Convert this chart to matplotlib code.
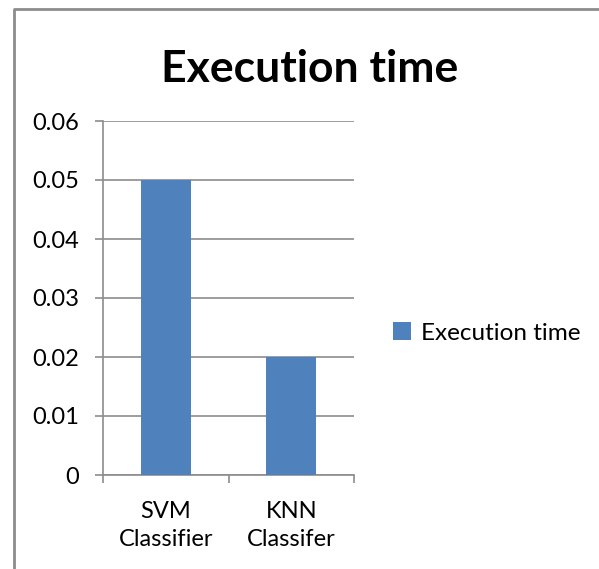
import matplotlib.pyplot as plt
from matplotlib.lines import Line2D

# execution time per classifier
categories = ["SVM\nClassifier", "KNN\nClassifer"]
exec_time = [0.05, 0.02]
yticks = [0, 0.01, 0.02, 0.03, 0.04, 0.05, 0.06]
ytick_labels = ["0", "0.01", "0.02", "0.03", "0.04", "0.05", "0.06"]

plt.rcParams['font.family'] = ['Lato', 'DejaVu Sans']

W, H = 599, 569
fig = plt.figure(figsize=(W / 100, H / 100), dpi=100)

# chart border (only top and left edges are in frame)
fig.lines.append(Line2D([14 / W, 14 / W, 1], [0, 1 - 9 / H, 1 - 9 / H],
                        transform=fig.transFigure, color='#8c8c8c', linewidth=2))

ax = fig.add_axes([103 / W, (H - 475) / H, (354 - 103) / W, (475 - 121) / H])

x = list(range(len(categories)))
ax.bar(x, exec_time, width=0.4, color='#4f81bd', label='Execution time', zorder=3)

ax.set_xlim(-0.5, len(categories) - 0.5)
ax.set_ylim(0, 0.06)
ax.set_yticks(yticks)
ax.set_yticklabels(ytick_labels)
ax.yaxis.grid(True, color='#8c8c8c', linewidth=1.2, zorder=0)

# category labels between boundary ticks
ax.set_xticks([-0.5, 0.5, 1.5])
ax.set_xticklabels([])
ax.set_xticks(x, minor=True)
ax.set_xticklabels(categories, minor=True, fontsize=17, linespacing=1.4)
ax.tick_params(axis='x', which='minor', length=0, pad=19)
ax.tick_params(axis='x', which='major', length=6, width=1.2, color='#8c8c8c')
ax.tick_params(axis='y', length=6, width=1.2, color='#8c8c8c', labelsize=17, pad=11)

for side in ['top', 'right']:
    ax.spines[side].set_visible(False)
for side in ['left', 'bottom']:
    ax.spines[side].set_color('#8c8c8c')
    ax.spines[side].set_linewidth(1.2)

fig.text(310 / W, 1 - 69 / H, "Execution time", ha='center', va='center',
         fontsize=32, fontweight='bold')

fig.legend(loc='center left', bbox_to_anchor=(371 / W, 1 - 333 / H), frameon=False,
           fontsize=17.5, handlelength=0.75, handleheight=0.75, handletextpad=0.4)

fig.savefig("out.png", dpi=100)
